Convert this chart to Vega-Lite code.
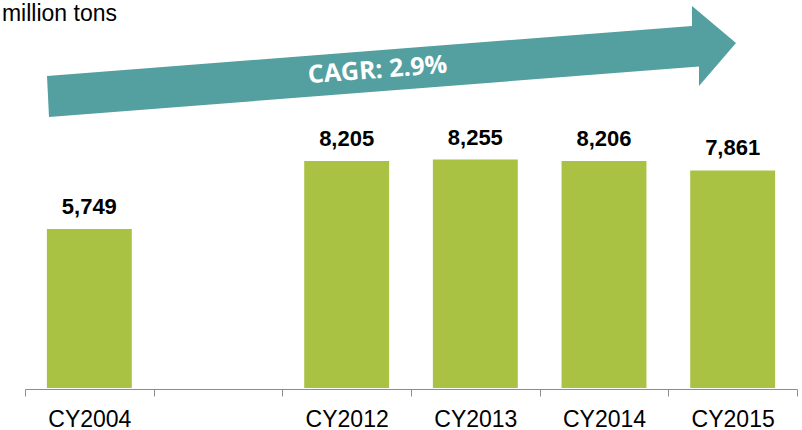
{
  "$schema": "https://vega.github.io/schema/vega-lite/v6.json",
  "width": 772,
  "height": 368,
  "autosize": {"type": "none"},
  "padding": {"left": 25, "top": 20, "right": 5, "bottom": 42},
  "background": "white",
  "config": {"view": {"stroke": null}},
  "layer": [
    {"data": {"values": [
      {"year": "CY2004", "value": 5749},
      {"year": "CY2012", "value": 8205},
      {"year": "CY2013", "value": 8255},
      {"year": "CY2014", "value": 8206},
      {"year": "CY2015", "value": 7861}
    ]},
     "encoding": {
       "x": {
         "field": "year", "type": "nominal",
         "scale": {"domain": ["CY2004", " ", "CY2012", "CY2013", "CY2014", "CY2015"], "paddingInner": 0, "paddingOuter": 0},
         "axis": {"title": null, "labelAngle": 0, "labelFont": "Liberation Sans", "labelFontSize": 23, "labelColor": "#000000", "tickBand": "extent", "tickSize": 7, "tickColor": "#8c8c8c", "domainColor": "#8c8c8c", "labelPadding": 12, "grid": false, "offset": 1}
       },
       "y": {"field": "value", "type": "quantitative", "scale": {"domain": [0, 13300], "nice": false}, "axis": null}
     },
     "layer": [
       {"mark": {"type": "bar", "color": "#A9C244", "width": {"band": 0.66}}},
       {"mark": {"type": "text", "font": "Liberation Sans", "fontWeight": "bold", "fontSize": 22, "color": "#000000", "baseline": "alphabetic", "dy": -15},
        "encoding": {"text": {"field": "value", "type": "quantitative", "format": ","}}}
     ]},
    {"data": {"values": [{"note": "arrow"}]},
     "mark": {"type": "point", "filled": true, "opacity": 1, "color": "#549F9F", "strokeWidth": 0, "size": 640000,
       "shape": "M-0.91,0.05L0.7025,-0.075L0.7025,-0.125L0.8125,-0.0325L0.72,0.075L0.72,0.02625L-0.905,0.1525Z"},
     "encoding": {
       "x": {"datum": "CY2013", "type": "nominal", "bandPosition": 0},
       "y": {"datum": 12000, "type": "quantitative", "scale": {"domain": [0, 13300], "nice": false}}
     }},
    {"data": {"values": [{"note": "CAGR: 2.9%"}]},
     "mark": {"type": "text", "font": "Open Sans", "fontWeight": "bold", "fontSize": 25, "color": "#ffffff", "angle": 355.6, "align": "center", "baseline": "middle"},
     "encoding": {
       "x": {"datum": "CY2012", "type": "nominal", "bandPosition": 0.74},
       "y": {"datum": 11493, "type": "quantitative", "scale": {"domain": [0, 13300], "nice": false}},
       "text": {"field": "note", "type": "nominal"}
     }},
    {"data": {"values": [{"note": "million tons"}]},
     "mark": {"type": "text", "font": "Liberation Sans", "fontSize": 23, "color": "#000000", "align": "right", "baseline": "alphabetic"},
     "encoding": {
       "x": {"datum": "CY2004", "type": "nominal", "bandPosition": 0.715},
       "y": {"datum": 13264, "type": "quantitative", "scale": {"domain": [0, 13300], "nice": false}},
       "text": {"field": "note", "type": "nominal"}
     }}
  ]
}
